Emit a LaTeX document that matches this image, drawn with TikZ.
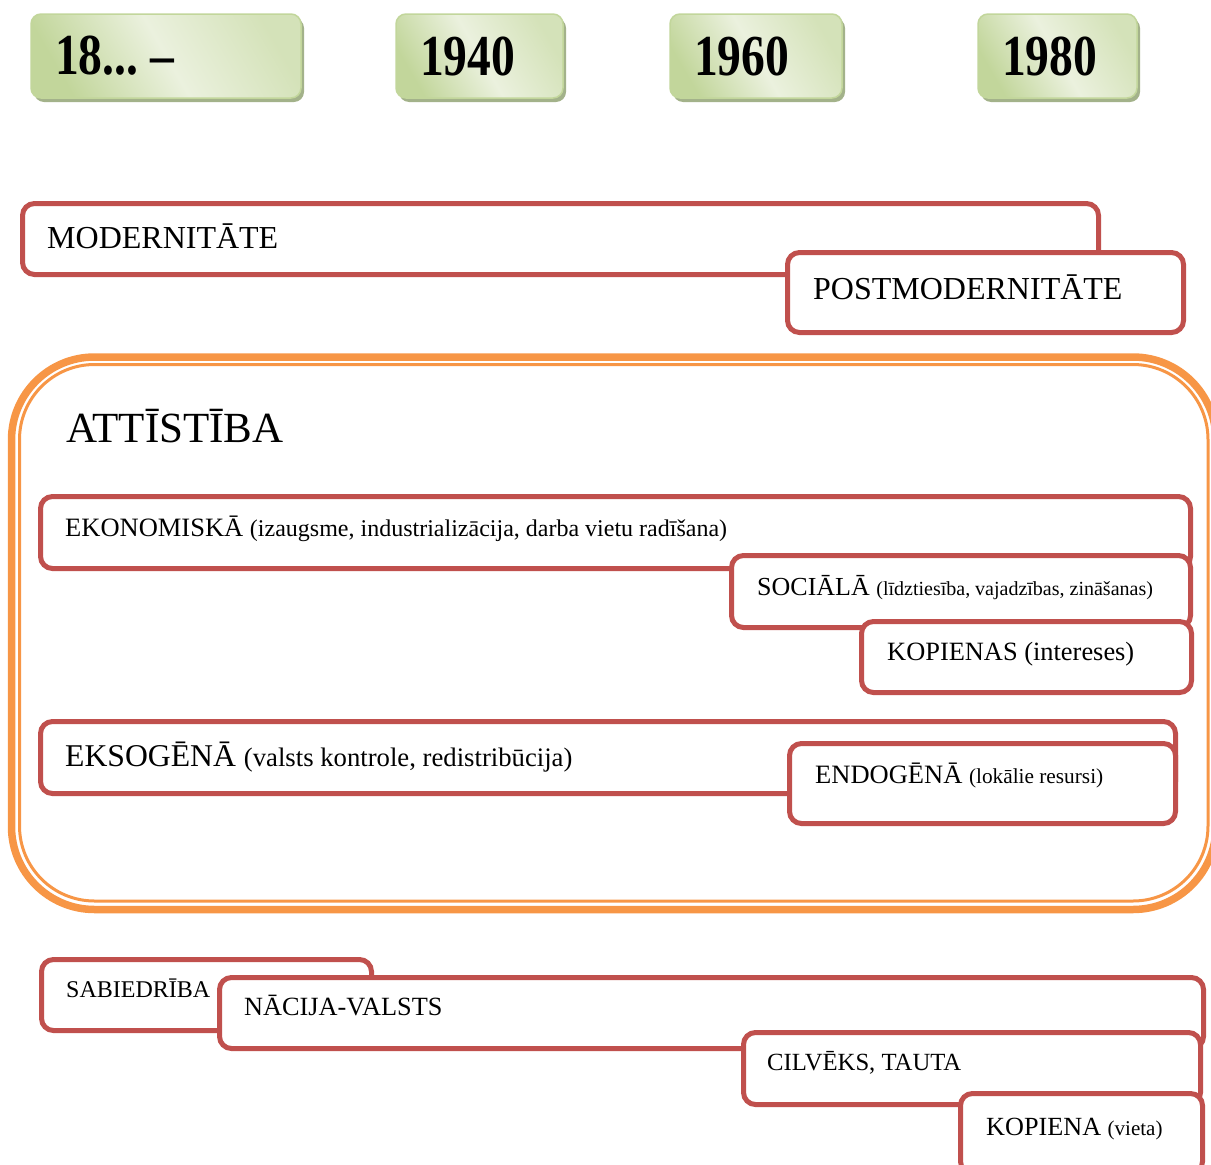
\documentclass[tikz,border=0pt]{standalone}
\usepackage{fontspec}
\setmainfont{Liberation Serif}
\newfontfamily\yearfont[FakeStretch=0.82]{Liberation Serif}
\usetikzlibrary{positioning, shadows}

\definecolor{boxred}{HTML}{C0504D}
\definecolor{frameorange}{HTML}{F79646}
\definecolor{yeargreen}{HTML}{C2D69B}
\definecolor{yearlight}{HTML}{EBF1DE}
\definecolor{yearshadow}{HTML}{A3B28A}

\newcommand{\sz}[1]{\fontsize{#1}{#1}\selectfont}

\begin{document}
\begin{tikzpicture}[x=1pt, y=-1pt,
    year/.style={draw=yeargreen, line width=1.5pt, rounded corners=10pt,
        left color=yeargreen, right color=yeargreen!55!yearlight, middle color=yearlight,
        shading angle=120,
        drop shadow={shadow xshift=3pt, shadow yshift=-4pt, fill=yearshadow, opacity=1},
        anchor=north west, inner ysep=0pt, inner xsep=24pt, outer sep=0pt,
        minimum height=84pt, align=left, font=\yearfont\bfseries\sz{58}},
    rbox/.style={draw=boxred, line width=5pt, rounded corners=12pt, fill=white,
        anchor=north west, inner sep=0pt, outer sep=0pt},
    txt/.style={inner sep=0pt, anchor=base west}]
    \clip (0,0) rectangle (1211,1165);

    \node[year, text width=222pt] (y18) at (31,14) {18...\hspace{12pt}–};
    \node[year, text width=119pt] (y40) at (396,14) {1940};
    \node[year, text width=124pt] (y60) at (670,14) {1960};
    \node[year, text width=111pt] (y80) at (978,14) {1980};

    \node[rbox, minimum width=1076pt, minimum height=71pt] (mod) at (22.5,203.5) {};
    \node[txt, below right=44.5pt and 24.5pt of mod.north west, anchor=base west, font=\sz{32}] (modtxt) {MODERNITĀTE};
    \node[rbox, minimum width=396pt, minimum height=80pt] (post) at (787.5,252.5) {};
    \node[txt, below right=46.5pt and 25.5pt of post.north west, anchor=base west, font=\sz{32}] (posttxt) {POSTMODERNITĀTE};

    \draw[frameorange, line width=7.5pt, rounded corners=83pt] (11.5,357) rectangle (1216,909.5);
    \draw[frameorange, line width=3pt, rounded corners=75pt] (19.5,364.5) rectangle (1208,901);
    \node[txt, font=\sz{43}] (att) at (66,442) {ATTĪSTĪBA};

    \node[rbox, minimum width=1150pt, minimum height=72pt] (ekon) at (40.5,496.5) {};
    \node[txt, below right=39.5pt and 24.5pt of ekon.north west, anchor=base west, font=\sz{26.5}] (ekontxt)
        {EKONOMISKĀ {\sz{24}(izaugsme, industrializācija, darba vietu radīšana)}};
    \node[rbox, minimum width=459pt, minimum height=72pt] (soc) at (731.5,555.5) {};
    \node[txt, below right=39.5pt and 25.5pt of soc.north west, anchor=base west, font=\sz{26}] (soctxt)
        {SOCIĀLĀ {\sz{20}(līdztiesība, vajadzības, zināšanas)}};
    \node[rbox, minimum width=330pt, minimum height=71pt] (kopin) at (861.5,621.5) {};
    \node[txt, below right=38.5pt and 25.5pt of kopin.north west, anchor=base west, font=\sz{26.4}] (kopintxt)
        {KOPIENAS (intereses)};

    \node[rbox, minimum width=1135pt, minimum height=72pt] (ekso) at (40.5,721.5) {};
    \node[txt, below right=44.5pt and 24.5pt of ekso.north west, anchor=base west, font=\sz{31.7}] (eksotxt)
        {EKSOGĒNĀ {\sz{26.7}(valsts kontrole, redistribūcija)}};
    \node[rbox, minimum width=386pt, minimum height=80pt] (endo) at (789.5,743.5) {};
    \node[txt, below right=39.5pt and 25.5pt of endo.north west, anchor=base west, font=\sz{26.5}] (endotxt)
        {ENDOGĒNĀ {\sz{21.3}(lokālie resursi)}};

    \node[rbox, minimum width=330pt, minimum height=71pt] (sab) at (41.5,959.5) {};
    \node[txt, below right=37.5pt and 24.5pt of sab.north west, anchor=base west, font=\sz{24}] (sabtxt) {SABIEDRĪBA};
    \node[rbox, minimum width=984pt, minimum height=71pt] (nac) at (219.5,977.5) {};
    \node[txt, below right=37.5pt and 24.5pt of nac.north west, anchor=base west, font=\sz{26.3}] (nactxt) {NĀCIJA-VALSTS};
    \node[rbox, minimum width=457pt, minimum height=72pt] (cilv) at (743.5,1032.5) {};
    \node[txt, below right=37.5pt and 23.5pt of cilv.north west, anchor=base west, font=\sz{24.7}] (cilvtxt) {CILVĒKS, TAUTA};
    \node[rbox, minimum width=242pt, minimum height=80pt] (kopa) at (960.5,1093.5) {};
    \node[txt, below right=41.5pt and 25.5pt of kopa.north west, anchor=base west, font=\sz{26.2}] (kopatxt)
        {KOPIENA {\sz{21}(vieta)}};
\end{tikzpicture}
\end{document}
